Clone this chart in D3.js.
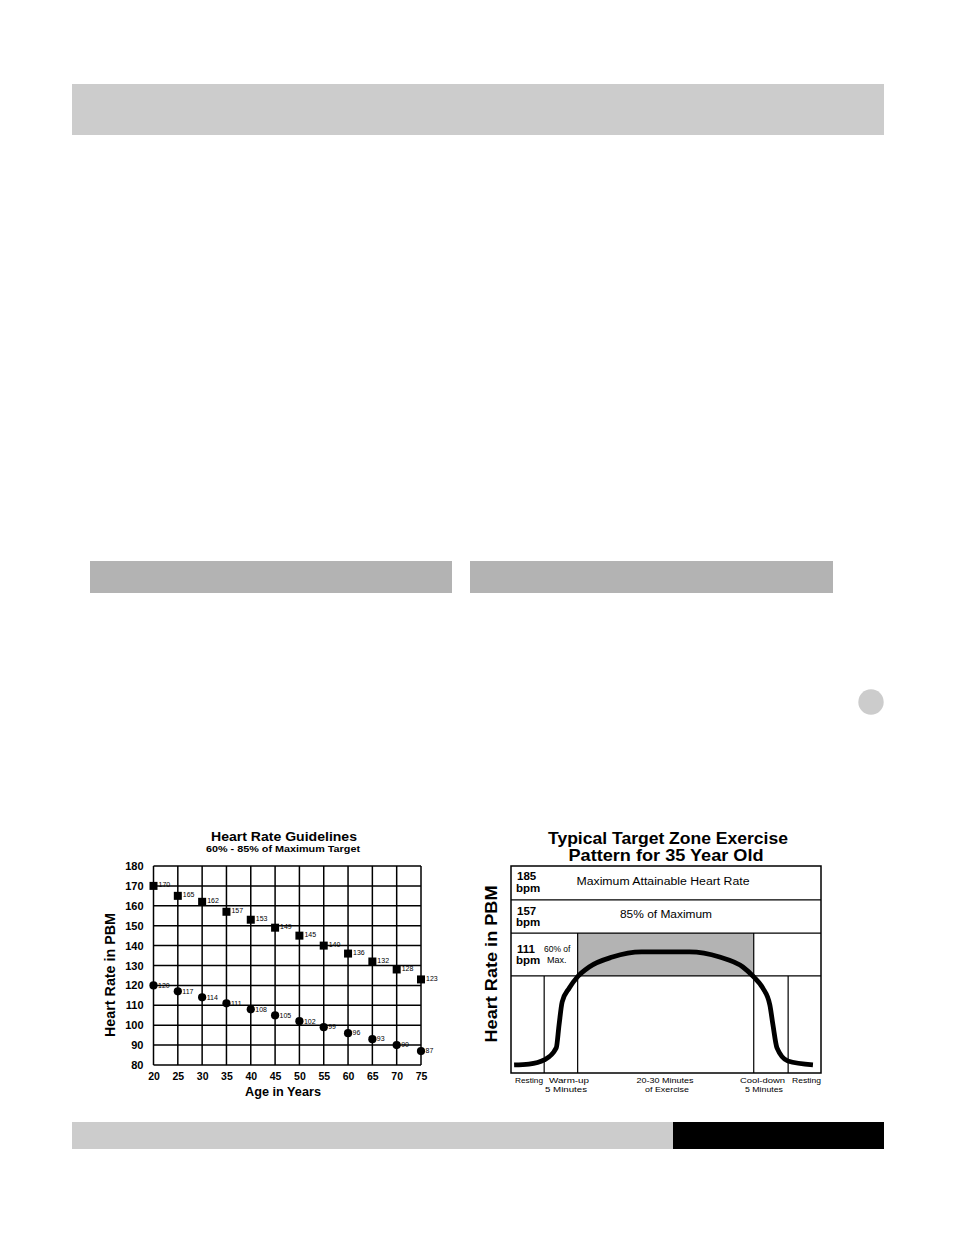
<!DOCTYPE html>
<html>
<head>
<meta charset="utf-8">
<script src="https://cdn.jsdelivr.net/npm/d3@7/dist/d3.min.js"></script>
<style>
  html, body { margin: 0; padding: 0; background: #fff; }
  svg { display: block; font-family: "Liberation Sans", Arial, sans-serif; }
</style>
</head>
<body>
<svg id="page" width="954" height="1235"></svg>
<script>
// ---------- Left chart data ----------
const ages = [20, 25, 30, 35, 40, 45, 50, 55, 60, 65, 70, 75];
const maxTarget = [170, 165, 162, 157, 153, 149, 145, 140, 136, 132, 128, 123];   // 85%
const minTarget = [120, 117, 114, 111, 108, 105, 102, 99, 96, 93, 90, 87];        // 60%
const rateTicks = [80, 90, 100, 110, 120, 130, 140, 150, 160, 170, 180];

// ---------- Right chart data (schematic units 0-100) ----------
const curveTime  = [1.0, 5.8, 10.7, 14.6, 15.5, 16.5, 18.8, 21.4, 25.2, 32.7, 42.1, 57.6, 67.3, 74.8, 78.3, 81.2, 83.5, 84.5, 85.8, 89.3, 97.4];
const curveLevel = [3.9, 4.3, 6.3, 12.1, 23.2, 34.3, 41.1, 46.4, 51.2, 56.0, 58.5, 58.5, 56.0, 51.2, 46.4, 41.1, 32.9, 23.2, 12.1, 5.8, 3.9];
const rowEdges = [100, 83.6, 67.6, 46.9];           // zone row boundaries
const zoneStart = 21.5, zoneEnd = 78.3;             // target zone time span
const warmStart = 10.7, coolEnd = 89.4;             // resting boundaries
const rowBpm = ["185", "157", "111"];
const rowText = ["Maximum Attainable Heart Rate", "85% of Maximum", ""];

const svg = d3.select("#page");

// ---------- Page decoration ----------
svg.append("rect").attr("x", 72).attr("y", 84).attr("width", 812).attr("height", 51).attr("fill", "#cccccc");
svg.append("rect").attr("x", 90).attr("y", 561).attr("width", 362).attr("height", 32).attr("fill", "#b3b3b3");
svg.append("rect").attr("x", 470).attr("y", 561).attr("width", 363).attr("height", 32).attr("fill", "#b3b3b3");
svg.append("circle").attr("cx", 871).attr("cy", 702).attr("r", 12.7).attr("fill", "#cccccc");
svg.append("rect").attr("x", 72).attr("y", 1122).attr("width", 601).attr("height", 27).attr("fill", "#cccccc");
svg.append("rect").attr("x", 673).attr("y", 1122).attr("width", 211).attr("height", 27).attr("fill", "#000");

// ---------- Left chart ----------
const L = svg.append("g");
const x1 = d3.scaleLinear().domain([20, 75]).range([153.5, 421]);
const y1 = d3.scaleLinear().domain([80, 180]).range([1065, 866]);

// grid
L.append("g").selectAll("line").data(ages).join("line")
  .attr("x1", d => x1(d)).attr("x2", d => x1(d))
  .attr("y1", y1(180)).attr("y2", y1(80))
  .attr("stroke", "#000").attr("stroke-width", 1.5);
L.append("g").selectAll("line").data(rateTicks).join("line")
  .attr("x1", x1(20)).attr("x2", x1(75))
  .attr("y1", d => y1(d)).attr("y2", d => y1(d))
  .attr("stroke", "#000").attr("stroke-width", 1.5);

// axes labels via d3 axes (no domain/tick lines)
const yAxis = L.append("g").attr("transform", `translate(${x1(20)},0)`)
  .call(d3.axisLeft(y1).tickValues(rateTicks).tickSize(0).tickPadding(10));
yAxis.select(".domain").remove();
yAxis.selectAll("text").attr("font-family", "Liberation Sans, Arial, sans-serif")
  .attr("font-size", 11).attr("font-weight", "bold").attr("fill", "#000");

const xAxis = L.append("g").attr("transform", `translate(0,${y1(80)})`)
  .call(d3.axisBottom(x1).tickValues(ages).tickSize(0).tickPadding(8));
xAxis.select(".domain").remove();
xAxis.selectAll("text").attr("font-family", "Liberation Sans, Arial, sans-serif")
  .attr("font-size", 10.5).attr("font-weight", "bold").attr("fill", "#000");

// markers
const sq = 8;
L.append("g").selectAll("rect").data(ages).join("rect")
  .attr("x", (d) => x1(d) - sq / 2).attr("y", (d, i) => y1(maxTarget[i]) - sq / 2)
  .attr("width", sq).attr("height", sq).attr("fill", "#000");
L.append("g").selectAll("text").data(ages).join("text")
  .attr("x", d => x1(d) + 5).attr("y", (d, i) => y1(maxTarget[i]) + 1.5)
  .attr("font-size", 7).attr("fill", "#000").text((d, i) => maxTarget[i]);

L.append("g").selectAll("circle").data(ages).join("circle")
  .attr("cx", d => x1(d)).attr("cy", (d, i) => y1(minTarget[i])).attr("r", 4.1).attr("fill", "#000");
L.append("g").selectAll("text").data(ages).join("text")
  .attr("x", d => x1(d) + 4.5).attr("y", (d, i) => y1(minTarget[i]) + 2.3)
  .attr("font-size", 7).attr("fill", "#000").text((d, i) => minTarget[i]);

// titles
L.append("text").attr("x", 284).attr("y", 841).attr("text-anchor", "middle")
  .attr("font-size", 13.5).attr("font-weight", "bold").attr("textLength", 146).attr("lengthAdjust", "spacingAndGlyphs")
  .text("Heart Rate Guidelines");
L.append("text").attr("x", 283).attr("y", 851.5).attr("text-anchor", "middle")
  .attr("font-size", 9.5).attr("font-weight", "bold").attr("textLength", 154).attr("lengthAdjust", "spacingAndGlyphs")
  .text("60% - 85% of Maximum Target");
L.append("text").attr("x", 283).attr("y", 1096).attr("text-anchor", "middle")
  .attr("font-size", 13).attr("font-weight", "bold").attr("textLength", 76).attr("lengthAdjust", "spacingAndGlyphs")
  .text("Age in Years");
L.append("text").attr("transform", "translate(115,975) rotate(-90)").attr("text-anchor", "middle")
  .attr("font-size", 14).attr("font-weight", "bold").attr("textLength", 124).attr("lengthAdjust", "spacingAndGlyphs")
  .text("Heart Rate in PBM");

// ---------- Right chart ----------
const R = svg.append("g");
const x2 = d3.scaleLinear().domain([0, 100]).range([511, 821]);
const y2 = d3.scaleLinear().domain([0, 100]).range([1073, 866]);

// target zone
R.append("rect").attr("x", x2(zoneStart)).attr("y", y2(rowEdges[2]))
  .attr("width", x2(zoneEnd) - x2(zoneStart)).attr("height", y2(rowEdges[3]) - y2(rowEdges[2]))
  .attr("fill", "#b3b3b3");

// row lines
R.append("g").selectAll("line").data(rowEdges.slice(1)).join("line")
  .attr("x1", x2(0)).attr("x2", x2(100)).attr("y1", d => y2(d)).attr("y2", d => y2(d))
  .attr("stroke", "#000").attr("stroke-width", 1.3);
// vertical phase lines
const vlines = [[warmStart, rowEdges[3]], [zoneStart, rowEdges[2]], [zoneEnd, rowEdges[2]], [coolEnd, rowEdges[3]]];
R.append("g").selectAll("line").data(vlines).join("line")
  .attr("x1", d => x2(d[0])).attr("x2", d => x2(d[0])).attr("y1", d => y2(d[1])).attr("y2", y2(0))
  .attr("stroke", "#000").attr("stroke-width", 1.2);

// curve
const pts = curveTime.map((t, i) => [t, curveLevel[i]]);
R.append("path").datum(pts)
  .attr("d", d3.line().x(d => x2(d[0])).y(d => y2(d[1])).curve(d3.curveMonotoneX))
  .attr("fill", "none").attr("stroke", "#000").attr("stroke-width", 4.8);

// frame
R.append("rect").attr("x", x2(0)).attr("y", y2(100)).attr("width", x2(100) - x2(0)).attr("height", y2(0) - y2(100))
  .attr("fill", "none").attr("stroke", "#000").attr("stroke-width", 1.5);

// row labels
const bpmBase = [[880, 891.5], [914.5, 925.5], [952.5, 963.5]];
rowBpm.forEach((v, i) => {
  R.append("text").attr("x", 517).attr("y", bpmBase[i][0]).attr("font-size", 11.5).attr("font-weight", "bold").text(v);
  R.append("text").attr("x", 516).attr("y", bpmBase[i][1]).attr("font-size", 11.5).attr("font-weight", "bold").text("bpm");
});
R.append("text").attr("x", 663).attr("y", 884.5).attr("text-anchor", "middle").attr("font-size", 10)
  .attr("textLength", 173).attr("lengthAdjust", "spacingAndGlyphs").text(rowText[0]);
R.append("text").attr("x", 666).attr("y", 918).attr("text-anchor", "middle").attr("font-size", 10)
  .attr("textLength", 92).attr("lengthAdjust", "spacingAndGlyphs").text(rowText[1]);
R.append("text").attr("x", 544).attr("y", 952).attr("font-size", 8.5).text("60% of");
R.append("text").attr("x", 547).attr("y", 963).attr("font-size", 9).text("Max.");

// title
R.append("text").attr("x", 668).attr("y", 843.5).attr("text-anchor", "middle")
  .attr("font-size", 17).attr("font-weight", "bold").attr("textLength", 240).attr("lengthAdjust", "spacingAndGlyphs")
  .text("Typical Target Zone Exercise");
R.append("text").attr("x", 666).attr("y", 860.5).attr("text-anchor", "middle")
  .attr("font-size", 17).attr("font-weight", "bold").attr("textLength", 195).attr("lengthAdjust", "spacingAndGlyphs")
  .text("Pattern for 35 Year Old");
R.append("text").attr("transform", "translate(497,964) rotate(-90)").attr("text-anchor", "middle")
  .attr("font-size", 17).attr("font-weight", "bold").attr("textLength", 157).attr("lengthAdjust", "spacingAndGlyphs")
  .text("Heart Rate in PBM");

// phase labels
const phaseLabels = [
  { t: "Resting", x: 515, y: 1083, a: "start", w: 28 },
  { t: "Warm-up", x: 549, y: 1083, a: "start", w: 40 },
  { t: "5 Minutes", x: 545, y: 1091.5, a: "start", w: 42 },
  { t: "20-30 Minutes", x: 665, y: 1083, a: "middle", w: 57 },
  { t: "of Exercise", x: 667, y: 1091.5, a: "middle", w: 44 },
  { t: "Cool-down", x: 740, y: 1083, a: "start", w: 45 },
  { t: "5 Minutes", x: 745, y: 1091.5, a: "start", w: 38 },
  { t: "Resting", x: 792, y: 1083, a: "start", w: 29 }
];
R.append("g").selectAll("text").data(phaseLabels).join("text")
  .attr("x", d => d.x).attr("y", d => d.y).attr("text-anchor", d => d.a)
  .attr("font-size", 8).attr("textLength", d => d.w).attr("lengthAdjust", "spacingAndGlyphs")
  .text(d => d.t);
</script>
</body>
</html>
